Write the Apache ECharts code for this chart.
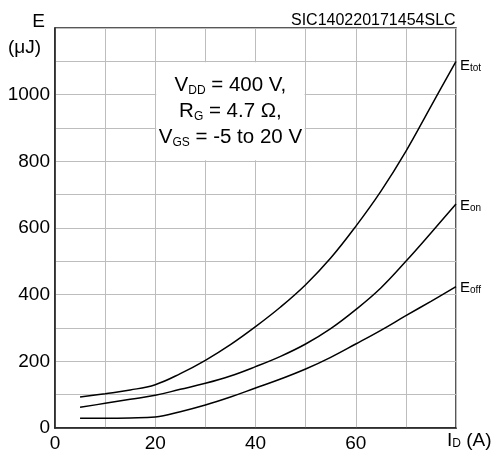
<!DOCTYPE html>
<html>
<head>
<meta charset="utf-8">
<script src="https://cdn.jsdelivr.net/npm/echarts@6/dist/echarts.min.js"></script>
<style>html,body{margin:0;padding:0;background:#fff}#c{width:496px;height:455px}</style>
</head>
<body>
<div id="c"></div>
<script>
var currents = [5, 10, 15, 20, 25, 30, 35, 40, 45, 50, 55, 60, 65, 70, 75, 80];
var eTot = [93, 103, 114, 130, 163, 203, 250, 304, 363, 430, 510, 605, 710, 830, 965, 1100];
var eOn  = [62, 74, 86, 98, 116, 134, 156, 184, 215, 252, 298, 355, 420, 500, 585, 672];
var eOff = [29, 29, 30, 33, 49, 69, 93, 120, 147, 177, 212, 252, 293, 337, 380, 424];
var yTickLabels = [0, 200, 400, 600, 800, 1000];
var xTickLabels = [0, 20, 40, 60];

function pairs(ys) { return currents.map(function (x, i) { return [x, ys[i]]; }); }

var FONT = 'Liberation Sans, Arial, sans-serif';
var subRich = {
  e: { fontSize: 15, fontFamily: FONT, color: '#000', lineHeight: 18, verticalAlign: 'bottom' },
  s: { fontSize: 10, fontFamily: FONT, color: '#000', lineHeight: 14, verticalAlign: 'bottom' }
};
function mkSeries(name, data, sub, dy) {
  return {
    type: 'line', name: name, data: pairs(data), smooth: 0.4, symbol: 'none',
    lineStyle: { color: '#000', width: 1.5 },
    endLabel: { show: true, distance: 4, offset: [0, dy], formatter: '{e|E}{s|' + sub + '}', rich: subRich },
    z: 3
  };
}

var chart = echarts.init(document.getElementById('c'));
var seriesTot = mkSeries('Etot', eTot, 'tot', 3);
seriesTot.markArea = {
  silent: true,
  itemStyle: { color: '#fff', opacity: 1 },
  label: {
    show: true, position: 'inside', align: 'center', verticalAlign: 'middle', offset: [0, -2],
    formatter: '{a|V}{b|DD}{a| = 400 V,}\n{a|R}{b|G}{a| = 4.7 Ω,}\n{a|V}{b|GS}{a| = -5 to 20 V}',
    rich: {
      a: { fontSize: 20.5, fontFamily: FONT, color: '#000', lineHeight: 26, verticalAlign: 'bottom' },
      b: { fontSize: 12, fontFamily: FONT, color: '#000', lineHeight: 20, verticalAlign: 'bottom' }
    }
  },
  data: [[{ coord: [20.2, 1097] }, { coord: [49.8, 803] }]]
};

chart.setOption({
  animation: false,
  grid: { left: 55, right: 40, top: 28, bottom: 27, show: true, borderColor: '#222', borderWidth: 1.5 },
  xAxis: {
    type: 'value', min: 0, max: 80, interval: 10,
    axisLine: { show: true, lineStyle: { color: '#222', width: 1.5 } },
    axisTick: { show: false },
    splitLine: { show: true, lineStyle: { color: '#bdbdbd', width: 1 } },
    axisLabel: {
      fontSize: 19, fontFamily: FONT, color: '#000', margin: 6,
      formatter: function (v) { return xTickLabels.indexOf(v) >= 0 ? String(v) : ''; }
    }
  },
  yAxis: {
    type: 'value', min: 0, max: 1200, interval: 100,
    axisLine: { show: true, lineStyle: { color: '#222', width: 1.5 } },
    axisTick: { show: false },
    splitLine: { show: true, lineStyle: { color: '#bdbdbd', width: 1 } },
    axisLabel: {
      fontSize: 19, fontFamily: FONT, color: '#000', margin: 5,
      formatter: function (v) { return yTickLabels.indexOf(v) >= 0 ? String(v) : ''; }
    }
  },
  graphic: [
    { type: 'text', left: 291, top: 13, style: { text: 'SIC140220171454SLC', font: '16px ' + FONT, fill: '#000' } },
    { type: 'text', right: 451, top: 12, style: { text: 'E', font: '19px ' + FONT, fill: '#000', textAlign: 'right' } },
    { type: 'text', left: 8, top: 38, style: { text: '(μJ)', font: '19px ' + FONT, fill: '#000' } },
    { type: 'text', left: 447, top: 431, style: {
        text: '{a|I}{b|D}{a| (A)}',
        rich: {
          a: { fontSize: 19, fontFamily: FONT, fill: '#000', lineHeight: 22, verticalAlign: 'bottom' },
          b: { fontSize: 12, fontFamily: FONT, fill: '#000', lineHeight: 17, verticalAlign: 'bottom' }
        } } }
  ],
  series: [seriesTot, mkSeries('Eon', eOn, 'on', 0), mkSeries('Eoff', eOff, 'off', 0)]
});
</script>
</body>
</html>
